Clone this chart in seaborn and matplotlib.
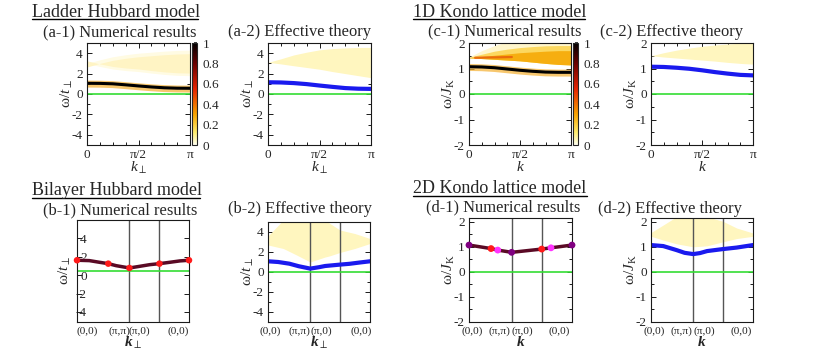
import numpy as np
import matplotlib
matplotlib.use('Agg')
import matplotlib as mpl
import matplotlib.pyplot as plt
import seaborn as sns
from matplotlib.lines import Line2D
from matplotlib.ticker import MultipleLocator
from matplotlib.colors import LinearSegmentedColormap, Normalize

sns.set_theme(style='ticks')
plt.rcParams['font.family'] = ['Liberation Serif', 'DejaVu Serif']
plt.rcParams.update({'mathtext.fontset': 'custom',
                     'mathtext.rm': 'Liberation Serif',
                     'mathtext.it': 'Liberation Serif:italic',
                     'mathtext.bf': 'Liberation Serif:bold',
                     'mathtext.bfit': 'Liberation Serif:bold:italic',
                     'axes.unicode_minus': False})

PI = np.pi
# ---------------- data ----------------
# top row: momentum in units of pi
k_frac = [0, 0.125, 0.25, 0.375, 0.5, 0.625, 0.75, 0.875, 1.0]
a1_disp = [1.05, 1.04, 1.0, 0.9, 0.79, 0.69, 0.61, 0.57, 0.56]
a1_cont_lo = [3.0, 2.7, 2.45, 2.3, 2.2, 2.05, 1.92, 1.83, 1.8]
a1_cont_hi = [3.0, 3.35, 3.65, 3.85, 4.0, 4.1, 4.2, 4.27, 4.3]
a2_disp = [1.15, 1.13, 1.07, 0.97, 0.83, 0.7, 0.58, 0.52, 0.5]
a2_cont_lo = [3.1, 2.95, 2.77, 2.6, 2.43, 2.2, 2.0, 1.8, 1.6]
a2_cont_hi = [3.1, 3.45, 3.83, 4.1, 4.33, 4.45, 4.52, 4.56, 4.57]
c1_disp = [1.07, 1.06, 1.03, 0.98, 0.93, 0.89, 0.86, 0.85, 0.85]
c1_cont_lo = [1.42, 1.39, 1.36, 1.33, 1.3, 1.25, 1.2, 1.16, 1.14]
c1_cont_core = [1.43, 1.47, 1.52, 1.57, 1.62, 1.65, 1.68, 1.7, 1.7]
c1_cont_mid = [1.44, 1.56, 1.68, 1.76, 1.82, 1.86, 1.89, 1.9, 1.9]
c1_cont_hi = [1.45, 1.7, 1.9, 2.05, 2.1, 2.1, 2.1, 2.1, 2.1]
c1_streak_k = [0.06, 0.15, 0.3, 0.42]
c1_streak_w = [1.42, 1.43, 1.44, 1.45]
c2_disp = [1.07, 1.06, 1.03, 0.99, 0.93, 0.86, 0.8, 0.75, 0.73]
c2_cont_lo = [1.5, 1.45, 1.41, 1.37, 1.33, 1.29, 1.24, 1.2, 1.17]
c2_cont_hi = [1.5, 1.62, 1.72, 1.8, 1.87, 1.92, 1.96, 1.99, 2.0]

# bottom row: path (0,0)-(pi,pi)-(pi,0)-(0,0), normalised path coordinate
path_ticks = ['(0,0)', '(π,π)', '(π,0)', '(0,0)']
b1_s = [0, 0.11, 0.2, 0.279, 0.35, 0.468, 0.56, 0.65, 0.736, 0.83, 0.92, 1.0]
b1_w = [1.62, 1.58, 1.4, 1.25, 1.03, 0.78, 0.96, 1.14, 1.25, 1.4, 1.55, 1.62]
b1_pts_s = [0, 0.279, 0.468, 0.736, 1.0]
b1_pts_w = [1.62, 1.25, 0.78, 1.25, 1.62]
b1_sym = [0.468, 0.736]
b2_s = [0, 0.1, 0.21, 0.3, 0.414, 0.5, 0.56, 0.707, 0.8, 0.9, 1.0]
b2_w = [1.07, 1.0, 0.83, 0.58, 0.34, 0.48, 0.6, 0.74, 0.82, 0.95, 1.07]
b2_cs = [0, 0.15, 0.28, 0.414, 0.56, 0.6, 0.705, 0.85, 1.0]
b2_cont_lo = [2.7, 2.35, 1.7, 1.0, 1.5, 1.6, 1.95, 2.35, 2.85]
b2_cont_hi = [3.6, 5.2, 5.2, 5.2, 5.2, 4.9, 4.2, 3.85, 3.35]
sym_pts = [0.414, 0.707]
d1_s = [0, 0.214, 0.279, 0.414, 0.706, 0.796, 1.0]
d1_w = [1.07, 0.93, 0.87, 0.78, 0.91, 0.96, 1.07]
d1_kind = ['p', 'r', 'm', 'p', 'r', 'm', 'p']
d2_s = [0, 0.12, 0.25, 0.33, 0.414, 0.48, 0.55, 0.705, 0.84, 1.0]
d2_w = [1.07, 1.03, 0.87, 0.76, 0.71, 0.75, 0.83, 0.91, 0.97, 1.07]
d2_cs = [0, 0.12, 0.25, 0.414, 0.55, 0.705, 0.84, 1.0]
d2_cont_lo = [1.42, 1.27, 1.12, 1.0, 1.04, 1.2, 1.33, 1.42]
d2_cont_hi = [1.57, 1.87, 2.2, 2.2, 2.2, 2.02, 1.75, 1.55]
cbar_ticks = [0, 0.2, 0.4, 0.6, 0.8, 1.0]
cbar_labels = ['0', '0.2', '0.4', '0.6', '0.8', '1']

# ---------------- figure ----------------
W, H = 831, 357
fig = plt.figure(figsize=(W / 100, H / 100), dpi=100)


def add_ax(l, t, r, b):
    return fig.add_axes([l / W, 1 - b / H, (r - l) / W, (b - t) / H])


GREEN = '#33dd33'
BLUE = '#1a1aee'
PALE = '#fff6bf'
MAROON = '#5a0a25'
FS_TICK = 9.5
FS_LAB = 11

cmap = LinearSegmentedColormap.from_list(
    'spec', [(0, '#fffff0'), (0.12, '#ffee70'), (0.3, '#f8a400'),
             (0.55, '#e62200'), (0.8, '#6a0000'), (1, '#000000')])


def style(ax, ylim, ymaj, ymin):
    ax.set_ylim(*ylim)
    ax.yaxis.set_major_locator(MultipleLocator(ymaj))
    ax.yaxis.set_minor_locator(MultipleLocator(ymin))
    ax.tick_params(which='both', direction='in', top=True, right=True,
                   labelsize=FS_TICK, pad=3, color='k', width=0.7)
    ax.tick_params(which='major', length=3.5)
    ax.tick_params(which='minor', length=2)
    for s in ax.spines.values():
        s.set_linewidth(0.8)
        s.set_color('k')
    ax.set_facecolor('white')


def top_x(ax, xlab):
    ax.set_xlim(0, PI)
    ax.set_xticks([0, PI / 2, PI], ['0', 'π/2', 'π'])
    ax.xaxis.set_minor_locator(MultipleLocator(PI / 8))
    ax.set_xlabel(xlab, fontsize=FS_LAB)
    ax.xaxis.set_label_coords(0.5, -0.15)


def bottom_x(ax, xlab, lab_pos, syms):
    ax.set_xlim(0, 1)
    ax.set_xticks(lab_pos, path_ticks)
    ax.tick_params(axis='x', which='major', length=0, pad=3, labelsize=8.2)
    ax.xaxis.set_minor_locator(plt.NullLocator())
    for s in syms:
        ax.axvline(s, color='#555555', lw=1.0, zorder=1)
    ax.set_xlabel(xlab, fontsize=FS_LAB)
    ax.xaxis.set_label_coords(0.5, -0.125)


def ylab(ax, txt, x=-0.12):
    ax.set_ylabel(txt, fontsize=FS_LAB)
    ax.yaxis.set_label_coords(x, 0.5)


kx = np.array(k_frac) * PI
LT = 'ω/$t_{\\perp}$'
LJ = 'ω/$J_{\\mathrm{K}}$'
KP = '$k_{\\perp}$'
KPB = '$\\mathbfit{k}_{\\perp}$'
KB = '$\\mathbfit{k}$'
LAB_B = [0.02, 0.305, 0.525, 0.91]

# (a-1)
ax = add_ax(87, 43, 190, 145)
style(ax, (-5, 5), 2, 1)
ax.fill_between(kx, a1_cont_lo, a1_cont_hi, color='#fffbe3', lw=0)
ax.fill_between(kx, np.array(a1_cont_lo) + 0.25, np.array(a1_cont_hi) - 0.35,
                color='#fff4c4', lw=0)
ax.axhline(0, color=GREEN, lw=1.2)
sns.lineplot(x=kx, y=np.array(a1_disp) - 0.08, ax=ax, color='#f5b030', lw=5,
             alpha=0.7)
sns.lineplot(x=kx, y=a1_disp, ax=ax, color='black', lw=2.2)
top_x(ax, KP)
ylab(ax, LT)
cax = add_ax(192, 43, 197, 145)
cb = mpl.colorbar.ColorbarBase(cax, cmap=cmap, norm=Normalize(0, 1))
cb.set_ticks(cbar_ticks, labels=cbar_labels)
cax.tick_params(labelsize=FS_TICK, length=2, direction='in', pad=4)
cb.outline.set_linewidth(0.8)

# (a-2)
ax = add_ax(268, 43, 371, 145)
style(ax, (-5, 5), 2, 1)
ax.fill_between(kx, a2_cont_lo, a2_cont_hi, color=PALE, lw=0)
ax.axhline(0, color=GREEN, lw=1.2)
sns.lineplot(x=kx, y=a2_disp, ax=ax, color=BLUE, lw=3)
top_x(ax, KP)
ylab(ax, LT)

# (c-1)
ax = add_ax(469, 43, 571, 145)
style(ax, (-2, 2), 1, 0.5)
ax.fill_between(kx, c1_cont_lo, c1_cont_hi, color='#fff6cc', lw=0)
ax.fill_between(kx, c1_cont_lo, c1_cont_mid, color='#fcd860', lw=0)
ax.fill_between(kx, c1_cont_lo, c1_cont_core, color='#f6ae10', lw=0)
sns.lineplot(x=np.array(c1_streak_k) * PI, y=c1_streak_w, ax=ax,
             color='#e8600c', lw=1.6, alpha=0.85)
ax.axhline(0, color=GREEN, lw=1.2)
sns.lineplot(x=kx, y=np.array(c1_disp) - 0.03, ax=ax, color='#f5b030', lw=5,
             alpha=0.7)
sns.lineplot(x=kx, y=c1_disp, ax=ax, color='black', lw=2.2)
top_x(ax, '$k$')
ylab(ax, LJ)
cax = add_ax(573, 43, 578, 145)
cb = mpl.colorbar.ColorbarBase(cax, cmap=cmap, norm=Normalize(0, 1))
cb.set_ticks(cbar_ticks, labels=cbar_labels)
cax.tick_params(labelsize=FS_TICK, length=2, direction='in', pad=4)
cb.outline.set_linewidth(0.8)

# (c-2)
ax = add_ax(651, 43, 753, 145)
style(ax, (-2, 2), 1, 0.5)
ax.fill_between(kx, c2_cont_lo, c2_cont_hi, color=PALE, lw=0)
ax.axhline(0, color=GREEN, lw=1.2)
sns.lineplot(x=kx, y=c2_disp, ax=ax, color=BLUE, lw=3)
top_x(ax, '$k$')
ylab(ax, LJ)

# (b-1)
ax = add_ax(77, 220, 189, 322)
style(ax, (-5.1, 6.0), 2, 1)
ax.set_yticks([-4, -2, 0, 2, 4])
ax.yaxis.set_minor_locator(plt.NullLocator())
ax.tick_params(axis='y', which='major', pad=-7)
ax.axhline(0.41, color=GREEN, lw=1.2)
bottom_x(ax, KPB, [0.087, 0.375, 0.56, 0.9], b1_sym)
sns.lineplot(x=b1_s, y=b1_w, ax=ax, color=MAROON, lw=2.5, sort=False,
             estimator=None)
sns.scatterplot(x=b1_pts_s, y=b1_pts_w, ax=ax, color='#ff1a1a', s=22,
                edgecolor='none', zorder=5, clip_on=False)
ylab(ax, LT, x=-0.04)

# (b-2)
ax = add_ax(268, 222, 370, 322)
style(ax, (-5, 5), 2, 1)
ax.fill_between(b2_cs, b2_cont_lo, b2_cont_hi, color=PALE, lw=0)
ax.axhline(0, color=GREEN, lw=1.2)
bottom_x(ax, KPB, LAB_B, sym_pts)
sns.lineplot(x=b2_s, y=b2_w, ax=ax, color=BLUE, lw=3, sort=False,
             estimator=None)
ylab(ax, LT)

# (d-1)
ax = add_ax(469, 218, 572, 322)
style(ax, (-2, 2.15), 1, 0.5)
ax.axhline(0, color=GREEN, lw=1.2)
bottom_x(ax, KB, [0.035, 0.3, 0.52, 0.88], sym_pts)
sns.lineplot(x=d1_s, y=d1_w, ax=ax, color=MAROON, lw=2.5, sort=False,
             estimator=None)
sns.scatterplot(x=d1_s, y=d1_w, hue=d1_kind, ax=ax, s=24, edgecolor='none',
                palette={'p': '#800080', 'r': '#ff1a1a', 'm': '#ff33ff'},
                legend=False, zorder=5, clip_on=False)
ylab(ax, LJ)

# (d-2)
ax = add_ax(651, 218, 753, 322)
style(ax, (-2, 2.15), 1, 0.5)
ax.fill_between(d2_cs, d2_cont_lo, d2_cont_hi, color=PALE, lw=0)
ax.axhline(0, color=GREEN, lw=1.2)
bottom_x(ax, KB, [0.03, 0.3, 0.52, 0.88], sym_pts)
sns.lineplot(x=d2_s, y=d2_w, ax=ax, color=BLUE, lw=3, sort=False,
             estimator=None)
ylab(ax, LJ)

# ---------------- titles ----------------
def ftext(x, y, s, size):
    fig.text(x / W, 1 - y / H, s, fontsize=size, ha='left', va='baseline')


def uline(x0, x1, y):
    fig.add_artist(Line2D([x0 / W, x1 / W], [1 - y / H, 1 - y / H],
                          color='black', lw=1.0))


ftext(32, 17, 'Ladder Hubbard model', 13)
uline(32, 198, 19)
ftext(413, 17, '1D Kondo lattice model', 13)
uline(413, 585, 19)
ftext(32, 195, 'Bilayer Hubbard model', 13)
uline(32, 200, 198)
ftext(413, 193, '2D Kondo lattice model', 13)
uline(413, 587, 195.5)

FS_SUB = 11.9
ftext(43, 36, '(a-1) Numerical results', FS_SUB)
ftext(228, 36, '(a-2) Effective theory', FS_SUB)
ftext(428, 35, '(c-1) Numerical results', FS_SUB)
ftext(600, 36, '(c-2) Effective theory', FS_SUB)
ftext(43, 214, '(b-1) Numerical results', FS_SUB)
ftext(228, 213, '(b-2) Effective theory', FS_SUB)
ftext(426, 211, '(d-1) Numerical results', FS_SUB)
ftext(598, 213, '(d-2) Effective theory', FS_SUB)

fig.savefig('out.png', dpi=100)
